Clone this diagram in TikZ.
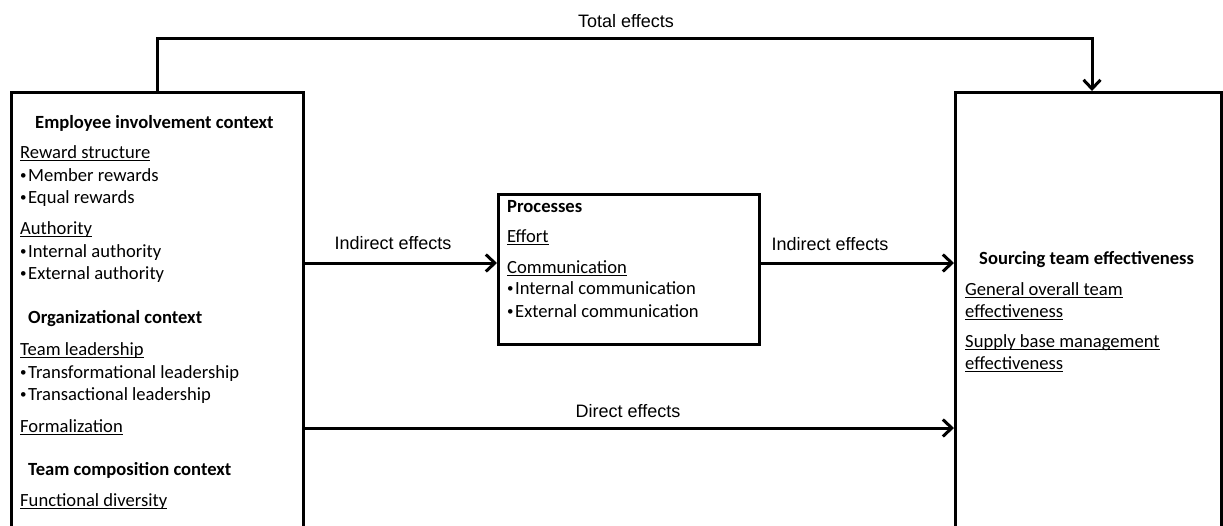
\documentclass[tikz,border=0pt]{standalone}
\usepackage{fontspec}
\setmainfont{Carlito}
\newfontfamily\arialf{Liberation Sans}
\usetikzlibrary{arrows.meta,calc}
\newcommand\ulx[1]{\setbox0\hbox{#1}\rlap{\rule[-2.6pt]{\wd0}{1.1pt}}\box0}
\newcommand\bul{{\fontsize{13}{13}\selectfont\raisebox{1.6pt}{•}}\kern1.5pt}
\begin{document}
\begin{tikzpicture}[x=1pt,y=-1pt,
  boxnode/.style={draw, line width=3pt, inner sep=0pt, anchor=north west},
  txt/.style={anchor=base west, inner sep=0pt, font=\fontsize{18.6}{22}\selectfont},
  hd/.style={txt, font=\fontsize{18.6}{22}\selectfont\bfseries},
  lbl/.style={anchor=base, inner sep=0pt, font=\arialf\fontsize{18}{22}\selectfont},
  arr/.style={line width=3pt, -{Straight Barb[length=9pt,width=17pt,line width=3pt]}}]
\useasboundingbox (0,0) rectangle (1223,525);
\clip (0,0) rectangle (1223,525);
% boxes
\node[boxnode, minimum width=292pt, minimum height=480pt] (emp) at (10,91) {};
\node[boxnode, minimum width=261pt, minimum height=150pt] (proc) at (497,193) {};
\node[boxnode, minimum width=266pt, minimum height=480pt] (ste) at (954,91) {};
% left box text
\node[hd]  (t1)  at (35,128)  {Employee involvement context};
\node[txt] (t2)  at (20,158)  {\ulx{Reward structure}};
\node[txt] (t3)  at (20,181)  {\bul Member rewards};
\node[txt] (t4)  at (20,203)  {\bul Equal rewards};
\node[txt] (t5)  at (20,234)  {\ulx{Authority}};
\node[txt] (t6)  at (20,257)  {\bul Internal authority};
\node[txt] (t7)  at (20,279)  {\bul External authority};
\node[hd]  (t8)  at (28,323)  {Organizational context};
\node[txt] (t9)  at (20,355)  {\ulx{Team leadership}};
\node[txt] (t10) at (20,378)  {\bul Transformational leadership};
\node[txt] (t11) at (20,400)  {\bul Transactional leadership};
\node[txt] (t12) at (20,432)  {\ulx{Formalization}};
\node[hd]  (t13) at (28,475)  {Team composition context};
\node[txt] (t14) at (20,506)  {\ulx{Functional diversity}};
% middle box text
\node[hd]  (p1) at (507,212) {Processes};
\node[txt] (p2) at (507,242) {\ulx{Effort}};
\node[txt] (p3) at (507,273) {\ulx{Communication}};
\node[txt] (p4) at (507,294) {\bul Internal communication};
\node[txt] (p5) at (507,317) {\bul External communication};
% right box text
\node[hd]  (s1) at (979,264) {Sourcing team effectiveness};
\node[txt] (s2) at (965,295) {\ulx{General overall team}};
\node[txt] (s3) at (965,317) {\ulx{effectiveness}};
\node[txt] (s4) at (965,347) {\ulx{Supply base management}};
\node[txt] (s5) at (965,369) {\ulx{effectiveness}};
% connectors
\coordinate (ytop) at (0,38);
\coordinate (yind) at (0,263);
\coordinate (ydir) at (0,428);
\coordinate (xdown) at (1092,0);
\draw[arr] (emp.north) -- (emp.north |- ytop) -- (xdown |- ytop) -- (xdown |- ste.north);
\draw[arr] (emp.east |- yind) -- (proc.west |- yind);
\draw[arr] (proc.east |- yind) -- (ste.west |- yind);
\draw[arr] (emp.east |- ydir) -- (ste.west |- ydir);
% labels
\node[lbl] (ltot) at (626,27) {Total effects};
\node[lbl] (lind1) at (393,249) {Indirect effects};
\node[lbl] (lind2) at (830,250) {Indirect effects};
\node[lbl] (ldir) at (628,417) {Direct effects};
\end{tikzpicture}
\end{document}
